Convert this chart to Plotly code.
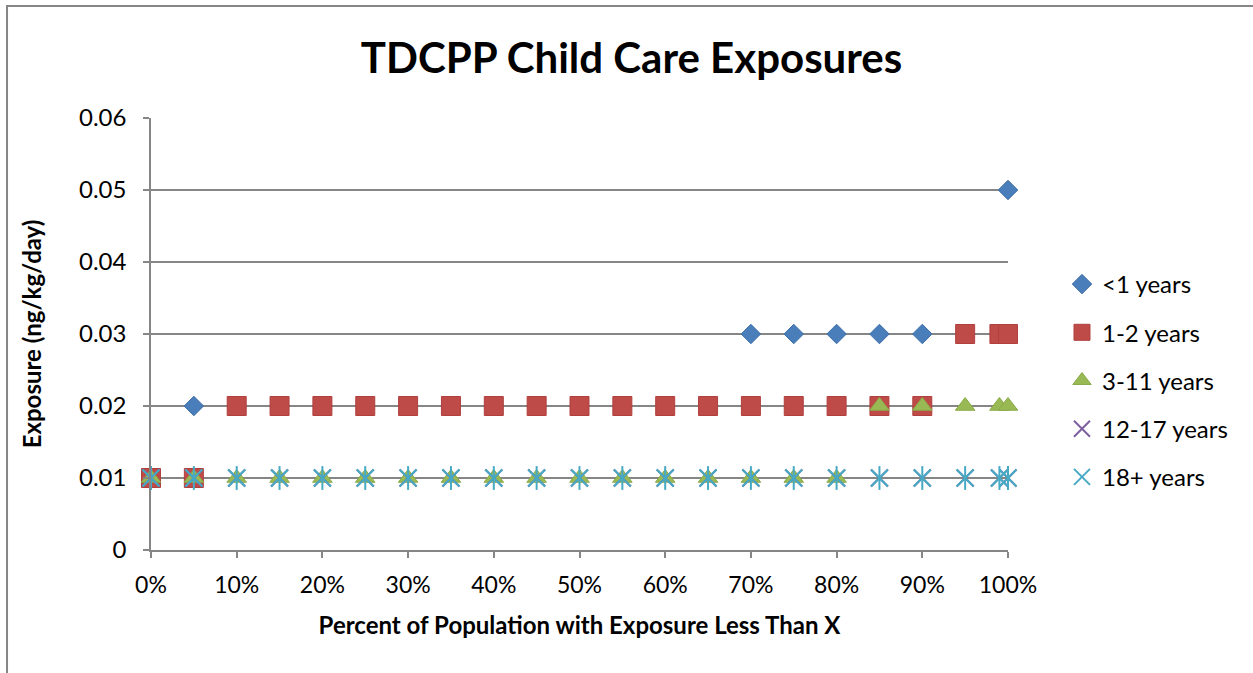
import plotly.graph_objects as go

# Percentiles of the exposure distribution (percent)
pct = [0, 5, 10, 15, 20, 25, 30, 35, 40, 45, 50, 55, 60, 65, 70, 75, 80, 85, 90, 95, 99, 100]

# Exposure (ng/kg/day) by age group
under_1 = [0.01, 0.02, 0.02, 0.02, 0.02, 0.02, 0.02, 0.02, 0.02, 0.02, 0.02, 0.02, 0.02, 0.02,
           0.03, 0.03, 0.03, 0.03, 0.03, 0.03, 0.03, 0.05]
age_1_2 = [0.01, 0.01, 0.02, 0.02, 0.02, 0.02, 0.02, 0.02, 0.02, 0.02, 0.02, 0.02, 0.02, 0.02,
           0.02, 0.02, 0.02, 0.02, 0.02, 0.03, 0.03, 0.03]
age_3_11 = [0.01, 0.01, 0.01, 0.01, 0.01, 0.01, 0.01, 0.01, 0.01, 0.01, 0.01, 0.01, 0.01, 0.01,
            0.01, 0.01, 0.01, 0.02, 0.02, 0.02, 0.02, 0.02]
age_12_17 = [0.01] * 22
age_18_plus = [0.01] * 22

y_ticks = [0, 0.01, 0.02, 0.03, 0.04, 0.05, 0.06]
y_tick_text = ["0", "0.01", "0.02", "0.03", "0.04", "0.05", "0.06"]
x_ticks = [0, 10, 20, 30, 40, 50, 60, 70, 80, 90, 100]
x_tick_text = [f"{v}%" for v in x_ticks]

FONT = "Lato"
GRID = "#868686"
FS = 24

fig = go.Figure()

fig.add_trace(go.Scatter(
    x=pct, y=under_1, mode="markers", name="<1 years", legendgroup="a", cliponaxis=False,
    marker=dict(symbol="diamond", size=15, color="#4A7EBB",
                line=dict(color="#3F6FA8", width=1)),
))
fig.add_trace(go.Scatter(
    x=pct, y=age_1_2, mode="markers", name="1-2 years", legendgroup="b", cliponaxis=False,
    marker=dict(symbol="square", size=19, color="#BE4B48",
                line=dict(color="#B0403E", width=1)),
))
fig.add_trace(go.Scatter(
    x=pct, y=age_3_11, mode="markers", name="3-11 years", legendgroup="c", cliponaxis=False,
    marker=dict(symbol="triangle-up", size=17, color="#98B954",
                line=dict(color="#8AAB48", width=1)),
))
fig.add_trace(go.Scatter(
    x=pct, y=age_12_17, mode="markers", name="12-17 years", legendgroup="d", cliponaxis=False,
    marker=dict(symbol="x-thin-open", size=17, color="#7D60A0",
                line=dict(color="#7D60A0", width=2)),
))
fig.add_trace(go.Scatter(
    x=pct, y=age_18_plus, mode="markers", name="18+ years", legendgroup="e", cliponaxis=False,
    marker=dict(symbol="x-thin-open", size=17, color="#46AAC5",
                line=dict(color="#46AAC5", width=2)),
))
# vertical stroke completing the asterisk marker
fig.add_trace(go.Scatter(
    x=pct, y=age_18_plus, mode="markers", name="18+ years", legendgroup="e",
    showlegend=False, cliponaxis=False,
    marker=dict(symbol="line-ns-open", size=17, color="#46AAC5",
                line=dict(color="#46AAC5", width=2)),
))

# outer chart frame
fig.add_shape(type="rect", xref="paper", yref="paper",
              x0=-0.168, x1=1.4, y0=-0.5, y1=1.259,
              line=dict(color="#868686", width=2), fillcolor="rgba(0,0,0,0)",
              layer="below")

fig.update_layout(
    width=1253, height=673,
    margin=dict(l=151, r=245, t=118, b=123),
    paper_bgcolor="white", plot_bgcolor="white",
    font=dict(family=FONT, size=FS, color="black"),
    title=dict(text="<b>TDCPP Child Care Exposures</b>", x=0.504, xanchor="center",
               yref="container", y=1 - 58 / 673, yanchor="middle",
               font=dict(family=FONT, size=42, color="black")),
    legend=dict(x=1.063, xanchor="left", y=(550 - 262) / 432, yanchor="top",
                font=dict(family=FONT, size=FS), tracegroupgap=14,
                itemwidth=30, bgcolor="rgba(0,0,0,0)"),
    showlegend=True,
)

fig.update_xaxes(
    range=[0, 100], tickvals=x_ticks, ticktext=x_tick_text,
    showgrid=False, zeroline=False, showline=True, linecolor=GRID, linewidth=1.5,
    ticks="outside", ticklen=6, tickcolor=GRID, tickwidth=1.5,
    tickfont=dict(family=FONT, size=23), ticklabelstandoff=8,
    title=dict(text="<b>Percent of Population with Exposure Less Than X</b>",
               font=dict(family=FONT, size=FS), standoff=20),
)
fig.update_yaxes(
    range=[0, 0.06], tickvals=y_ticks, ticktext=y_tick_text,
    showgrid=True, gridcolor=GRID, gridwidth=1.5, zeroline=False,
    showline=True, linecolor=GRID, linewidth=1.5,
    ticks="outside", ticklen=6, tickcolor=GRID, tickwidth=1.5,
    tickfont=dict(family=FONT, size=FS), ticklabelstandoff=12,
    title=dict(text="<b>Exposure (ng/kg/day)</b>",
               font=dict(family=FONT, size=FS), standoff=31),
)

fig.write_html("out.html")
